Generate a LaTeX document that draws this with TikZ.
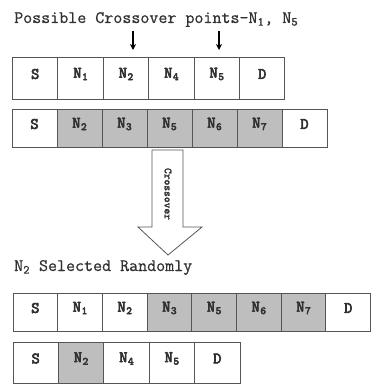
\documentclass[tikz,border=0pt]{standalone}
\usepackage{fontspec}
\newfontfamily\cellfont[FakeBold=4]{Latin Modern Mono}
\newfontfamily\arrowfont[FakeBold=2.2]{Latin Modern Mono}
\newfontfamily\captfont[FakeBold=0.8]{Latin Modern Mono}
\usetikzlibrary{arrows.meta}
\definecolor{shade}{RGB}{190,190,190}
\definecolor{edge}{RGB}{85,85,85}
\definecolor{ink}{RGB}{50,50,50}
\newcommand\Nsub[1]{N\kern0.5pt\raisebox{-2.5pt}{\fontsize{11}{11}\selectfont#1}}
\tikzset{
  cell/.style={draw=edge, line width=0.9pt, minimum height=#1, inner sep=0pt, outer sep=0pt},
  celltext/.style={font=\cellfont\fontsize{16}{16}\selectfont, text=ink, inner sep=0pt},
  captext/.style={anchor=base west, inner sep=0pt, text=ink, font=\captfont\fontsize{17.5}{17.5}\selectfont},
  pointer/.style={-{Stealth[length=6pt,width=6pt]}, line width=1.2pt},
  blockarrow/.style={draw=edge, line width=0.8pt, fill=white},
}
\newcommand\cellrow[6]{% name, left x, width, center y, height, list label/fill
  \foreach \lab/\fil [count=\i] in {#6} {
    \node[cell=#5, minimum width=#3, fill=\fil] (#1-\i) at ({#2+(\i-0.5)*#3}, #4) {};
    \node[celltext] (#1-\i-t) at ([yshift=4pt]#1-\i.center) {\lab};
  }
}
\begin{document}
\begin{tikzpicture}[x=1pt, y=-1pt]
\useasboundingbox (0,0) rectangle (370,385);
\node[captext] (title) at (14,23) {Possible Crossover points-N\textsubscript{1}, N\textsubscript{5}};
\coordinate (p1) at (133,31);
\coordinate (q1) at (133,50);
\coordinate (p2) at (219,31);
\coordinate (q2) at (219,50);
\cellrow{a}{12.5}{45.4}{78}{42}{S/white, \Nsub{1}/white, \Nsub{2}/white, \Nsub{4}/white, \Nsub{5}/white, D/white}
\cellrow{b}{12}{45}{128}{38}{S/white, \Nsub{2}/shade, \Nsub{3}/shade, \Nsub{5}/shade, \Nsub{6}/shade, \Nsub{7}/shade, D/white}
\draw[pointer] (p1) -- (q1);
\draw[pointer] (p2) -- (q2);
\draw[blockarrow] (152,150) -- (183,150) -- (183,227) -- (202,227) -- (168,255) -- (138,227) -- (152,227) -- cycle;
\node[rotate=-90, inner sep=0pt, text=ink, font=\arrowfont\fontsize{11}{11}\selectfont] (xo) at (168,194) {Crossover};
\node[captext] (sel) at (14,271) {N\textsubscript{2} Selected Randomly};
\cellrow{c}{13}{44.7}{312}{38}{S/white, \Nsub{1}/white, \Nsub{2}/white, \Nsub{3}/shade, \Nsub{5}/shade, \Nsub{6}/shade, \Nsub{7}/shade, D/white}
\cellrow{d}{13}{45.4}{362.5}{41}{S/white, \Nsub{2}/shade, \Nsub{4}/white, \Nsub{5}/white, D/white}
\end{tikzpicture}
\end{document}
